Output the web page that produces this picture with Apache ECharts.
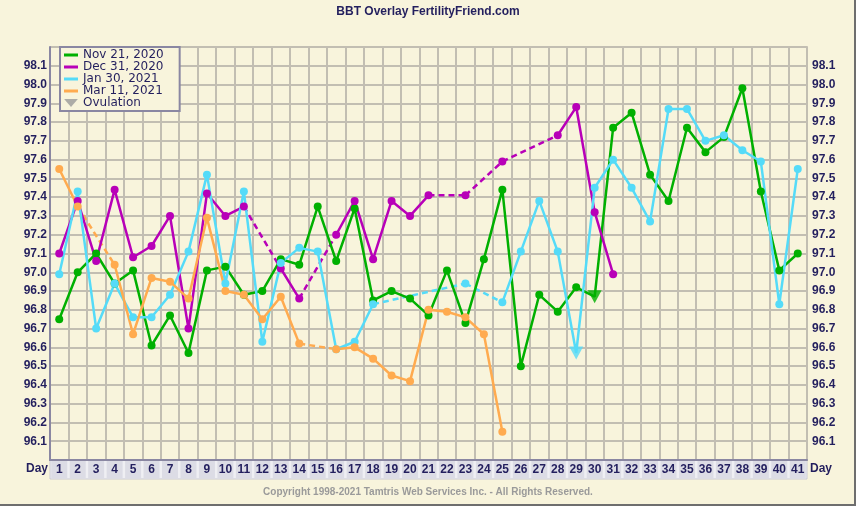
<!DOCTYPE html>
<html>
<head>
<meta charset="utf-8">
<script src="https://cdn.jsdelivr.net/npm/echarts@6/dist/echarts.min.js"></script>
<style>
  html, body { margin: 0; padding: 0; background: #f8f4dc; }
  #chart { width: 856px; height: 506px; }
</style>
</head>
<body>
<div id="chart"></div>
<script>
// day categories on the x axis
const days = ['1','2','3','4','5','6','7','8','9','10','11','12','13','14','15','16','17','18','19','20',
  '21','22','23','24','25','26','27','28','29','30','31','32','33','34','35','36','37','38','39','40','41'];

const cycleNames = ['Nov 21, 2020', 'Dec 31, 2020', 'Jan 30, 2021', 'Mar 11, 2021'];

// temperatures per day (null = no reading, bridged with a dashed line)
const nov21 = [96.75, 97.00, 97.10, 96.94, 97.01, 96.61, 96.77, 96.57, 97.01, 97.03,
  96.88, 96.90, 97.07, 97.04, 97.35, 97.06, 97.34, 96.85, 96.90, 96.86,
  96.77, 97.01, 96.73, 97.07, 97.44, 96.50, 96.88, 96.79, 96.92, 96.87,
  97.77, 97.85, 97.52, 97.38, 97.77, 97.64, 97.72, 97.98, 97.43, 97.01, 97.10];
const dec31 = [97.10, 97.38, 97.06, 97.44, 97.08, 97.14, 97.30, 96.70, 97.42, 97.30,
  97.35, null, 97.02, 96.86, null, 97.20, 97.38, 97.07, 97.38, 97.30,
  97.41, null, 97.41, null, 97.59, null, null, 97.73, 97.88, 97.32,
  96.99];
const jan30 = [96.99, 97.43, 96.70, 96.94, 96.76, 96.76, 96.88, 97.11, 97.52, 96.94,
  97.43, 96.63, 97.05, 97.13, 97.11, 96.59, 96.63, 96.83, null, null,
  null, null, 96.94, null, 96.84, 97.11, 97.38, 97.11, 96.57, 97.45,
  97.60, 97.45, 97.27, 97.87, 97.87, 97.70, 97.73, 97.65, 97.59, 96.83, 97.55];
const mar11 = [97.55, 97.35, null, 97.04, 96.67, 96.97, 96.95, 96.86, 97.29, 96.90,
  96.88, 96.75, 96.87, 96.62, null, 96.59, 96.60, 96.54, 96.45, 96.42,
  96.80, 96.79, 96.76, 96.67, 96.15];

// ovulation day per cycle (null = none marked)
const ovulationDays = [30, null, 29, null];

const cycleData = [nov21, dec31, jan30, mar11];
const cycleColors = ['#00b000', '#b800b8', '#55dbf8', '#ffab4f'];

const navy = '#231f5e';
const gridColor = '#c2beb2';
const frameColor = '#8a87a2';

let series = [];
cycleData.forEach((vals, k) => {
  const color = cycleColors[k];
  // solid line with dots
  series.push({
    name: cycleNames[k],
    type: 'line',
    data: vals.map((v, i) => (v != null && ovulationDays[k] === i + 1) ? {value: v, symbol: 'none'} : v),
    connectNulls: false,
    symbol: 'circle',
    symbolSize: 8,
    itemStyle: {color: color},
    lineStyle: {color: color, width: 2.5},
    z: 3
  });
  // dashed bridges over missing days
  let last = null;
  vals.forEach((v, i) => {
    if (v == null) return;
    if (last != null && i - last > 1) {
      series.push({
        name: cycleNames[k],
        type: 'line',
        data: [[last, vals[last]], [i, v]],
        symbol: 'none',
        itemStyle: {color: color},
        lineStyle: {color: color, width: 2.5, type: [6, 4]},
        z: 2
      });
    }
    last = i;
  });
});

// ovulation markers
series.push({
  name: 'Ovulation',
  type: 'scatter',
  symbol: 'triangle',
  symbolRotate: 180,
  symbolSize: [14, 13],
  itemStyle: {color: '#9a9a9a'},
  data: ovulationDays.map((d, k) => d == null ? null :
    {value: [d - 1, cycleData[k][d - 1]], itemStyle: {color: cycleColors[k]}}).filter(x => x),
  z: 5
});

const yLabel = v => (v < 96.05 || v > 98.15) ? '' : v.toFixed(1);

const chart = echarts.init(document.getElementById('chart'));
chart.setOption({
  backgroundColor: '#f8f4dc',
  animation: false,
  title: {
    text: 'BBT Overlay FertilityFriend.com',
    left: 'center',
    top: 1,
    textStyle: {color: navy, fontSize: 12, fontWeight: 'bold', fontFamily: 'Liberation Sans'}
  },
  legend: {
    left: 60,
    top: 47,
    orient: 'vertical',
    itemWidth: 14,
    itemHeight: 8,
    itemGap: 0,
    padding: [2, 16, 2, 4],
    backgroundColor: '#f8f4dc',
    borderColor: frameColor,
    borderWidth: 2,
    textStyle: {color: navy, fontSize: 12, fontFamily: 'DejaVu Sans', lineHeight: 12},
    data: cycleNames.map(n => ({name: n, icon: 'path://M0,0h14v3H0z'}))
      .concat([{name: 'Ovulation', icon: 'path://M0,0L12,0L6,7Z'}])
  },
  grid: {left: 50, right: 49, top: 47, bottom: 46},
  xAxis: {
    type: 'category',
    data: days,
    boundaryGap: true,
    axisTick: {show: false},
    axisLine: {show: true, lineStyle: {color: frameColor, width: 2}},
    splitLine: {show: true, interval: 0, lineStyle: {color: gridColor, width: 2}},
    axisLabel: {
      interval: 0,
      margin: 1,
      color: navy,
      fontWeight: 'bold',
      fontSize: 12,
      fontFamily: 'Liberation Sans Narrow, Liberation Sans',
      backgroundColor: '#dcdce5',
      width: 16,
      height: 17,
      lineHeight: 17,
      align: 'center'
    }
  },
  yAxis: [{
    type: 'value',
    min: 96.0,
    max: 98.2,
    interval: 0.1,
    position: 'left',
    axisLine: {show: true, lineStyle: {color: frameColor, width: 2}},
    axisTick: {show: false},
    splitLine: {show: true, lineStyle: {color: gridColor, width: 2}},
    axisLabel: {color: navy, fontWeight: 'bold', fontSize: 12, fontFamily: 'Liberation Sans', margin: 3, formatter: yLabel}
  }, {
    type: 'value',
    min: 96.0,
    max: 98.2,
    interval: 0.1,
    position: 'right',
    axisLine: {show: true, lineStyle: {color: gridColor, width: 2}},
    axisTick: {show: false},
    splitLine: {show: false},
    axisLabel: {color: navy, fontWeight: 'bold', fontSize: 12, fontFamily: 'Liberation Sans', margin: 5, formatter: yLabel}
  }],
  graphic: [
    {type: 'rect', z: -1, shape: {x: 50, y: 460, width: 757, height: 19},
      style: {fill: '#efeff3', stroke: '#c9c9d3', lineWidth: 1}},
    {type: 'text', left: null, x: 48, y: 469,
      style: {text: 'Day', fill: navy, font: 'bold 12px "Liberation Sans Narrow", "Liberation Sans"', align: 'right', verticalAlign: 'middle'}},
    {type: 'text', x: 810, y: 469,
      style: {text: 'Day', fill: navy, font: 'bold 12px "Liberation Sans Narrow", "Liberation Sans"', align: 'left', verticalAlign: 'middle'}},
    {type: 'text', x: 428, y: 492,
      style: {text: 'Copyright 1998-2021 Tamtris Web Services Inc. - All Rights Reserved.', fill: '#9a9a9a',
        font: 'bold 10px "Liberation Sans Narrow", "Liberation Sans"', align: 'center', verticalAlign: 'middle'}},
    {type: 'line', shape: {x1: 855, y1: 0, x2: 855, y2: 506}, style: {stroke: '#6e6e6e', lineWidth: 2}},
    {type: 'line', shape: {x1: 0, y1: 505, x2: 856, y2: 505}, style: {stroke: '#6e6e6e', lineWidth: 2}}
  ],
  series: series
});
</script>
</body>
</html>
